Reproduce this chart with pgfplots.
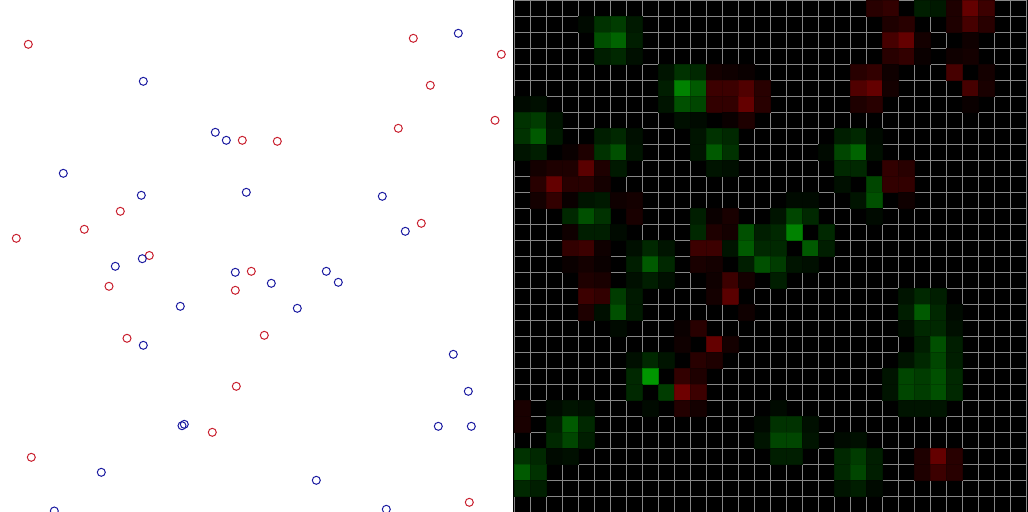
\documentclass[border=0pt]{standalone}
\usepackage{pgfplots}
\pgfplotsset{compat=1.18}
\definecolor{ptred}{RGB}{200,30,45}
\definecolor{ptblue}{RGB}{25,25,160}
\definecolor{gridgray}{RGB}{135,135,135}
\begin{document}
\begin{tikzpicture}
\useasboundingbox (0,0) rectangle (1028bp,512bp);
\fill[black] (513bp,0) rectangle (1028bp,512bp);
\begin{axis}[at={(0,0)}, anchor=south west, scale only axis,
  width=513bp, height=512bp, xmin=0, xmax=513, ymin=0, ymax=512,
  y dir=reverse, hide axis]
\addplot[only marks, mark=o, mark size=4bp, draw=ptred, mark options={line width=1bp, draw=ptred}] table {
x y
28.3 44.3
242.3 140.3
120.3 211.3
84.3 229.3
16.3 238.3
149.3 255.5
413.3 38.3
501.3 54.3
430.3 85.3
398.3 128.3
495 120.3
277.3 141.3
421.3 223.3
251.3 271.3
109 286.3
235.3 290.3
127 338.3
236.3 386.3
212.3 432.3
31.3 457.3
264.3 335.3
469.3 502.3
};
\addplot[only marks, mark=o, mark size=4bp, draw=ptblue, mark options={line width=1bp, draw=ptblue}] table {
x y
143.3 81.3
215.3 132.3
226.3 140.3
63.3 173.3
246.3 192.3
141.3 195.3
142.3 258.7
458.3 33.3
382.3 196.3
405.3 231.3
115.3 266.3
235.3 272.3
180.3 306.3
143.3 345.3
182 425.7
184.3 424.3
101.3 472.3
54.3 511
326.3 271.3
271.3 283.3
338.3 282.3
297.3 308.3
453.3 354.3
468.3 391.3
438.3 426.3
471.3 426.3
316.3 480.3
386.3 509.3
};
\end{axis}
\begin{axis}[at={(514bp,0)}, anchor=south west, scale only axis,
  width=512bp, height=512bp, xmin=-0.5, xmax=31.5, ymin=-0.5, ymax=31.5,
  y dir=reverse, axis background/.style={fill=black}, axis on top,
  xtick={-0.5,0.5,...,31.5}, ytick={-0.5,0.5,...,31.5},
  xticklabels={}, yticklabels={}, major tick length=0pt,
  grid=major, major grid style={gridgray, line width=0.8bp},
  axis line style={gridgray, line width=0.8bp},
  colormap={rg}{rgb255=(150,0,0) rgb255=(0,0,0) rgb255=(0,150,0)},
  point meta min=-150, point meta max=150]
\addplot[scatter, only marks, mark=square*, mark size=8bp, point meta=explicit] table[x=x, y=y, meta=c] {
x y c
4 1 10
5 1 50
6 1 60
7 1 25
5 2 80
6 2 100
7 2 30
5 3 30
6 3 40
7 3 15
9 4 20
10 4 50
11 4 40
12 4 -20
13 4 -15
14 4 -10
9 5 30
10 5 130
11 5 90
12 5 -60
13 5 -60
14 5 -80
15 5 -40
0 6 10
1 6 15
9 6 20
10 6 80
11 6 70
12 6 -50
13 6 -50
14 6 -100
15 6 -40
0 7 50
1 7 60
2 7 20
10 7 15
11 7 10
13 7 -10
14 7 -30
0 8 50
1 8 90
2 8 25
5 8 30
6 8 40
7 8 15
11 8 20
12 8 50
13 8 40
0 9 20
1 9 30
3 9 -10
4 9 -30
5 9 50
6 9 80
7 9 20
11 9 20
12 9 90
13 9 50
1 10 -20
2 10 -30
3 10 -30
4 10 -90
5 10 -30
6 10 25
12 10 20
13 10 15
1 11 -40
2 11 -100
3 11 -40
4 11 -40
5 11 -20
1 12 -20
2 12 -50
3 12 -10
4 12 20
5 12 25
6 12 -15
7 12 -20
3 13 40
4 13 80
5 13 50
7 13 -25
11 13 30
12 13 -10
13 13 -25
3 14 -15
4 14 30
5 14 30
6 14 10
11 14 40
12 14 -30
13 14 -20
14 14 80
15 14 30
3 15 -50
4 15 -60
5 15 -15
7 15 15
8 15 40
9 15 20
11 15 -60
12 15 -60
13 15 20
14 15 90
15 15 40
22 0 -40
23 0 -50
25 0 30
26 0 25
27 0 -30
28 0 -100
29 0 -60
23 1 -30
24 1 -40
27 1 -30
28 1 -70
29 1 -40
23 2 -70
24 2 -100
25 2 -20
28 2 -15
23 3 -40
24 3 -50
25 3 -10
27 3 -15
28 3 -20
21 4 -40
22 4 -50
23 4 -15
27 4 -70
29 4 -20
21 5 -80
22 5 -100
23 5 -20
28 5 -70
29 5 -25
21 6 -30
22 6 -40
28 6 -10
20 8 30
21 8 40
22 8 10
19 9 10
20 9 70
21 9 100
22 9 15
20 10 40
21 10 40
23 10 -50
24 10 -40
20 11 15
22 11 70
23 11 -50
24 11 -50
17 12 10
18 12 10
21 12 20
22 12 80
24 12 -15
16 13 20
17 13 70
18 13 40
22 13 10
16 14 40
17 14 130
19 14 40
16 15 40
18 15 90
19 15 30
3 16 -10
4 16 -20
5 16 -10
7 16 30
8 16 90
9 16 40
11 16 -25
12 16 -20
14 16 30
15 16 80
4 17 -30
5 17 -25
7 17 15
8 17 30
9 17 15
12 17 -15
13 17 -60
14 17 -20
4 18 -60
5 18 -50
6 18 60
7 18 25
12 18 -20
13 18 -90
4 19 -30
5 19 15
6 19 80
7 19 25
14 19 -15
6 20 10
10 20 -10
11 20 -40
10 21 -15
12 21 -100
13 21 -20
7 22 15
8 22 40
9 22 20
11 22 -40
12 22 -30
7 23 40
8 23 150
10 23 -50
11 23 -30
7 24 40
9 24 60
10 24 -110
11 24 -60
0 25 -25
2 25 10
3 25 20
4 25 15
8 25 10
10 25 -35
11 25 -20
0 26 -25
2 26 30
3 26 90
4 26 40
15 26 10
2 27 40
3 27 70
4 27 30
15 27 20
0 28 50
1 28 40
2 28 10
3 28 15
0 29 90
1 29 50
0 30 40
1 30 30
16 16 60
17 16 20
18 16 15
16 17 30
24 18 20
25 18 40
26 18 30
24 19 30
25 19 90
26 19 40
27 19 10
24 20 15
25 20 40
26 20 40
27 20 15
25 21 30
26 21 80
27 21 30
24 22 20
25 22 40
26 22 70
27 22 30
23 23 20
24 23 70
25 23 60
26 23 80
27 23 40
23 24 20
24 24 70
25 24 60
26 24 80
27 24 40
16 25 10
24 25 20
25 25 20
26 25 20
16 26 50
17 26 50
18 26 15
16 27 70
17 27 70
18 27 20
20 27 10
21 27 15
16 28 30
17 28 30
20 28 40
21 28 60
22 28 30
25 28 -30
26 28 -100
27 28 -40
20 29 40
21 29 70
22 29 30
25 29 -30
26 29 -60
27 29 -40
20 30 20
21 30 30
22 30 10
};
\end{axis}
\end{tikzpicture}
\end{document}
